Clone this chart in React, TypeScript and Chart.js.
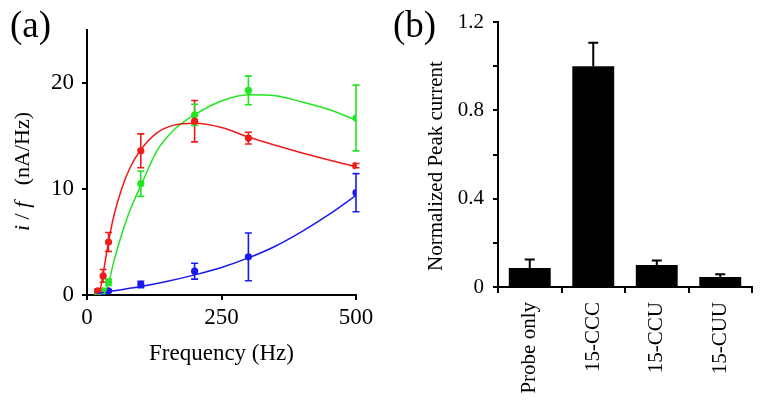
import { useEffect, useRef } from "react";
import { Chart, registerables } from "chart.js";

Chart.register(...registerables);

const FONT = "'Liberation Serif', 'Times New Roman', Times, serif";
Chart.defaults.font.family = FONT;

// ---------- Panel (a) data ----------
const frequencies = [20, 30, 40, 100, 200, 300, 500];
const redValues = [0.4, 1.8, 5.0, 13.6, 16.4, 14.8, 12.2];
const redErrors = [0.15, 0.6, 0.9, 1.6, 1.95, 0.55, 0.2];
const greenValues = [0.2, 0.4, 1.2, 10.5, 17.0, 19.3, 16.7];
const greenErrors = [0.1, 0.1, 0.3, 1.2, 1.0, 1.35, 3.1];
const blueValues = [0.25, 0.3, 0.4, 1.0, 2.25, 3.6, 9.65];
const blueErrors = [0.1, 0.1, 0.1, 0.3, 0.75, 2.25, 1.8];

// fitted curves
const redFitX = [24, 30, 40, 50, 65, 80, 100, 130, 160, 200, 250, 300, 400, 500];
const redFitY = [0.2, 2.0, 5.0, 7.5, 10.1, 12.0, 13.7, 15.3, 16.0, 16.2, 15.8, 14.9, 13.4, 12.1];
const greenFitX = [32, 40, 50, 65, 80, 100, 130, 160, 200, 250, 300, 350, 400, 450, 500];
const greenFitY = [0.15, 1.1, 3.2, 5.8, 8.0, 10.3, 13.6, 15.5, 17.0, 18.3, 18.9, 18.8, 18.2, 17.5, 16.5];
const blueFitX = [20, 50, 100, 150, 200, 250, 300, 350, 400, 450, 500];
const blueFitY = [0.15, 0.4, 0.8, 1.3, 1.9, 2.6, 3.5, 4.6, 6.0, 7.6, 9.4];

const xTicksA = [0, 250, 500];
const yTicksA = [0, 10, 20];

const RED = "#f01a1a";
const GREEN = "#22e622";
const BLUE = "#1a1aee";

// ---------- Panel (b) data ----------
const categories = ["Probe only", "15-CCC", "15-CCU", "15-CUU"];
const peakValues = [0.086, 1.0, 0.1, 0.045];
const peakErrors = [0.038, 0.106, 0.02, 0.013];
const yTicksB = [0, 0.2, 0.4, 0.6, 0.8, 1.0, 1.2];
const yLabelsB = ["0", "", "0.4", "", "0.8", "", "1.2"];

type Seg = { t: string; italic?: boolean };

function drawRotated(ctx: CanvasRenderingContext2D, segs: Seg[], cx: number, cy: number, size: number) {
  ctx.save();
  ctx.translate(cx, cy);
  ctx.rotate(-Math.PI / 2);
  ctx.fillStyle = "#000";
  ctx.textBaseline = "alphabetic";
  ctx.textAlign = "left";
  const fonts = segs.map((s) => `${s.italic ? "italic " : ""}${size}px ${FONT}`);
  let total = 0;
  const widths = segs.map((s, i) => {
    ctx.font = fonts[i];
    const w = ctx.measureText(s.t).width;
    total += w;
    return w;
  });
  let x = -total / 2;
  segs.forEach((s, i) => {
    ctx.font = fonts[i];
    ctx.fillText(s.t, x, 0);
    x += widths[i];
  });
  ctx.restore();
}

export default function App() {
  const refA = useRef<HTMLCanvasElement>(null);
  const refB = useRef<HTMLCanvasElement>(null);

  useEffect(() => {
    const seriesA = [
      { color: RED, values: redValues, errors: redErrors, fx: redFitX, fy: redFitY },
      { color: GREEN, values: greenValues, errors: greenErrors, fx: greenFitX, fy: greenFitY },
      { color: BLUE, values: blueValues, errors: blueErrors, fx: blueFitX, fy: blueFitY },
    ];

    const datasetsA: any[] = [];
    seriesA.forEach((s) => {
      datasetsA.push({
        data: s.fx.map((x, i) => ({ x, y: s.fy[i] })),
        showLine: true,
        borderColor: s.color,
        borderWidth: 1.5,
        pointRadius: 0,
        cubicInterpolationMode: "monotone",
        fill: false,
      });
    });
    seriesA.forEach((s) => {
      datasetsA.push({
        data: frequencies.map((x, i) => ({ x, y: s.values[i] })),
        showLine: false,
        backgroundColor: s.color,
        borderColor: s.color,
        borderWidth: 0,
        pointRadius: 3.6,
      });
    });

    const errorBarsA = {
      id: "errorBarsA",
      beforeDatasetsDraw(chart: any) {
        const { ctx, scales, chartArea } = chart;
        ctx.save();
        ctx.beginPath();
        ctx.rect(chartArea.left - 10, chartArea.top, chartArea.right - chartArea.left + 20, chartArea.bottom - chartArea.top);
        ctx.clip();
        seriesA.forEach((s) => {
          ctx.strokeStyle = s.color;
          ctx.lineWidth = 1.6;
          frequencies.forEach((f, i) => {
            const px = scales.x.getPixelForValue(f);
            const top = scales.y.getPixelForValue(s.values[i] + s.errors[i]);
            const bot = scales.y.getPixelForValue(s.values[i] - s.errors[i]);
            ctx.beginPath();
            ctx.moveTo(px, top);
            ctx.lineTo(px, bot);
            ctx.moveTo(px - 3.5, top);
            ctx.lineTo(px + 3.5, top);
            ctx.moveTo(px - 3.5, bot);
            ctx.lineTo(px + 3.5, bot);
            ctx.stroke();
          });
        });
        ctx.restore();
      },
    };

    const textA = {
      id: "textA",
      afterDraw(chart: any) {
        const ctx = chart.ctx as CanvasRenderingContext2D;
        drawRotated(ctx, [{ t: "i", italic: true }, { t: " / " }, { t: "f", italic: true }, { t: "   (nA/Hz)" }], 29, 171.5, 22);
        ctx.save();
        ctx.fillStyle = "#000";
        ctx.font = `37px ${FONT}`;
        ctx.textBaseline = "alphabetic";
        ctx.textAlign = "left";
        ctx.fillText("(a)", 10, 37);
        ctx.restore();
      },
    };

    const chartA = new Chart(refA.current!, {
      type: "scatter",
      data: { datasets: datasetsA },
      plugins: [errorBarsA, textA],
      options: {
        animation: false,
        responsive: true,
        maintainAspectRatio: false,
        layout: { padding: { left: 0, top: 30, right: 24, bottom: 0 } },
        plugins: { legend: { display: false }, tooltip: { enabled: false } },
        scales: {
          x: {
            type: "linear",
            min: 0,
            max: 500,
            afterBuildTicks: (scale: any) => {
              scale.ticks = xTicksA.map((v) => ({ value: v }));
            },
            afterFit: (scale: any) => {
              scale.height = 111;
            },
            grid: { drawOnChartArea: false, drawTicks: true, tickLength: 5, color: "#000", lineWidth: 2 },
            border: { display: true, color: "#000", width: 2 },
            ticks: { color: "#000", font: { family: FONT, size: 23 }, padding: 4, maxRotation: 0 },
            title: {
              display: true,
              text: "Frequency (Hz)",
              color: "#000",
              font: { family: FONT, size: 23 },
              padding: { top: 0, bottom: 38 },
            },
          },
          y: {
            type: "linear",
            min: 0,
            max: 25,
            afterBuildTicks: (scale: any) => {
              scale.ticks = yTicksA.map((v) => ({ value: v }));
            },
            afterFit: (scale: any) => {
              scale.width = 87;
            },
            grid: { drawOnChartArea: false, drawTicks: true, tickLength: 5, color: "#000", lineWidth: 2 },
            border: { display: true, color: "#000", width: 2 },
            ticks: { color: "#000", font: { family: FONT, size: 23 }, padding: 8 },
          },
        },
      } as any,
    });

    const errorBarsB = {
      id: "errorBarsB",
      afterDatasetsDraw(chart: any) {
        const { ctx, scales } = chart;
        ctx.save();
        ctx.strokeStyle = "#000";
        ctx.lineWidth = 2;
        peakValues.forEach((v, i) => {
          const px = scales.x.getPixelForValue(i);
          const y0 = scales.y.getPixelForValue(v);
          const y1 = scales.y.getPixelForValue(v + peakErrors[i]);
          ctx.beginPath();
          ctx.moveTo(px, y0);
          ctx.lineTo(px, y1);
          ctx.moveTo(px - 5, y1);
          ctx.lineTo(px + 5, y1);
          ctx.stroke();
        });
        ctx.restore();
      },
    };

    const textB = {
      id: "textB",
      afterDraw(chart: any) {
        const ctx = chart.ctx as CanvasRenderingContext2D;
        drawRotated(ctx, [{ t: "Normalized Peak current" }], 62, 166, 21);
        ctx.save();
        ctx.fillStyle = "#000";
        ctx.font = `37px ${FONT}`;
        ctx.textBaseline = "alphabetic";
        ctx.textAlign = "left";
        ctx.fillText("(b)", 13, 37);
        ctx.restore();
      },
    };

    const chartB = new Chart(refB.current!, {
      type: "bar",
      data: {
        labels: categories,
        datasets: [
          {
            data: peakValues,
            backgroundColor: "#000",
            borderWidth: 0,
            barPercentage: 0.66,
            categoryPercentage: 1,
          },
        ],
      },
      plugins: [errorBarsB, textB],
      options: {
        animation: false,
        responsive: true,
        maintainAspectRatio: false,
        layout: { padding: { left: 0, top: 22, right: 12, bottom: 0 } },
        plugins: { legend: { display: false }, tooltip: { enabled: false } },
        scales: {
          x: {
            type: "category",
            offset: true,
            afterFit: (scale: any) => {
              scale.height = 119;
            },
            grid: { offset: true, drawOnChartArea: false, drawTicks: true, tickLength: 6, color: "#000", lineWidth: 2 },
            border: { display: true, color: "#000", width: 2 },
            ticks: {
              color: "#000",
              font: { family: FONT, size: 21 },
              padding: 9,
              autoSkip: false,
              maxRotation: 90,
              minRotation: 90,
            },
          },
          y: {
            type: "linear",
            min: 0,
            max: 1.2,
            afterBuildTicks: (scale: any) => {
              scale.ticks = yTicksB.map((v) => ({ value: v }));
            },
            afterFit: (scale: any) => {
              scale.width = 118;
            },
            grid: { drawOnChartArea: false, drawTicks: true, tickLength: 5, color: "#000", lineWidth: 2 },
            border: { display: true, color: "#000", width: 2 },
            ticks: {
              color: "#000",
              font: { family: FONT, size: 21 },
              padding: 9,
              callback: (value: any, index: number) => yLabelsB[index] ?? "",
            },
          },
        },
      } as any,
    });

    return () => {
      chartA.destroy();
      chartB.destroy();
    };
  }, []);

  return (
    <div style={{ position: "fixed", left: 0, top: 0, width: 764, height: 406, background: "#fff" }}>
      <div style={{ position: "absolute", left: 0, top: 0, width: 380, height: 406 }}>
        <canvas ref={refA} />
      </div>
      <div style={{ position: "absolute", left: 380, top: 0, width: 384, height: 406 }}>
        <canvas ref={refB} />
      </div>
    </div>
  );
}
